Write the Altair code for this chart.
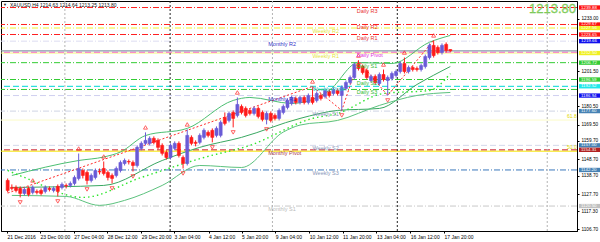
import altair as alt
import pandas as pd

# ---------------- data ----------------
title_text = "XAUUSD,H4  1214.63 1214.64 1213.25 1213.80"
last_price_text = "1213.80"

opens = [1135.9, 1131.7, 1131.7, 1131.1, 1128.1, 1131.1, 1128.7, 1129.3, 1129.9, 1129.3,
         1131.1, 1129.9, 1132.3, 1131.7, 1132.9, 1132.9, 1134.1, 1137.1, 1141.9, 1140.7,
         1135.9, 1137.7, 1141.3, 1143.1, 1140.7, 1138.9, 1138.9, 1141.9, 1146.1, 1147.3,
         1146.7, 1144.9, 1155.2, 1158.2, 1158.2, 1161.2, 1160.0, 1157.0, 1152.8, 1149.7,
         1155.2, 1158.2, 1149.7, 1146.1, 1161.8, 1158.8, 1158.8, 1161.8, 1164.8, 1166.0,
         1163.0, 1163.0, 1173.8, 1172.0, 1176.8, 1175.0, 1180.4, 1179.2, 1178.0, 1176.2,
         1179.2, 1176.8, 1172.6, 1176.2, 1175.0, 1173.2, 1176.8, 1179.8, 1182.2, 1185.2,
         1182.8, 1185.8, 1182.8, 1185.8, 1184.0, 1187.0, 1186.4, 1189.4, 1188.2, 1190.0,
         1187.0, 1191.2, 1194.8, 1197.8, 1206.2, 1204.4, 1202.0, 1196.0, 1198.4, 1194.2,
         1199.6, 1196.0, 1197.2, 1199.0, 1201.4, 1206.2, 1201.4, 1203.8, 1203.2, 1202.6,
         1204.4, 1209.8, 1217.1, 1215.9, 1212.8, 1217.7, 1214.63]
closes = [1129.9, 1131.1, 1129.9, 1128.1, 1130.5, 1127.5, 1131.7, 1128.7, 1128.1, 1131.7,
          1130.5, 1131.1, 1129.3, 1133.5, 1132.6, 1134.1, 1137.7, 1143.1, 1138.9, 1135.9,
          1138.9, 1141.9, 1141.0, 1140.1, 1137.7, 1137.1, 1143.1, 1146.7, 1147.9, 1147.0,
          1144.9, 1155.8, 1158.2, 1160.0, 1161.2, 1158.8, 1155.8, 1152.2, 1149.7, 1157.0,
          1158.2, 1150.9, 1146.1, 1163.0, 1158.2, 1158.2, 1163.0, 1166.0, 1163.0, 1161.8,
          1167.2, 1170.8, 1170.2, 1176.2, 1173.2, 1181.6, 1176.8, 1175.0, 1176.2, 1179.2,
          1174.4, 1172.6, 1176.2, 1172.0, 1173.2, 1178.0, 1180.4, 1184.0, 1185.8, 1182.8,
          1185.8, 1182.8, 1187.0, 1182.8, 1188.2, 1185.2, 1190.0, 1187.0, 1190.6, 1188.2,
          1191.8, 1194.8, 1197.8, 1205.6, 1203.2, 1200.8, 1197.8, 1198.4, 1194.8, 1199.6,
          1196.6, 1197.8, 1200.2, 1201.4, 1206.2, 1201.4, 1203.8, 1202.6, 1202.6, 1205.0,
          1210.4, 1217.1, 1211.0, 1212.8, 1217.1, 1214.0, 1213.80]
highs = [1137.1, 1133.5, 1132.9, 1132.3, 1131.7, 1132.3, 1132.9, 1130.5, 1131.1, 1132.9,
         1132.3, 1132.3, 1133.5, 1134.7, 1134.1, 1135.3, 1138.9, 1152.1, 1143.1, 1141.9,
         1140.1, 1143.1, 1143.1, 1147.3, 1141.9, 1140.1, 1144.3, 1147.9, 1149.1, 1148.5,
         1147.9, 1157.0, 1159.4, 1164.8, 1162.4, 1162.4, 1161.2, 1158.2, 1154.0, 1158.2,
         1159.4, 1159.4, 1150.9, 1166.6, 1163.0, 1160.0, 1164.2, 1167.2, 1166.0, 1167.2,
         1168.4, 1172.0, 1176.8, 1177.4, 1178.0, 1185.8, 1181.6, 1180.4, 1179.2, 1180.4,
         1180.4, 1178.0, 1177.4, 1177.4, 1176.2, 1179.2, 1181.6, 1185.2, 1187.0, 1186.4,
         1187.0, 1187.0, 1188.2, 1192.4, 1189.4, 1188.2, 1191.2, 1190.6, 1191.8, 1191.2,
         1193.0, 1196.0, 1199.0, 1206.8, 1208.0, 1205.6, 1203.2, 1199.6, 1199.6, 1200.8,
         1202.6, 1199.0, 1201.4, 1202.6, 1207.4, 1209.8, 1205.0, 1205.0, 1204.4, 1206.2,
         1211.6, 1218.3, 1220.1, 1217.1, 1218.3, 1218.9, 1214.64]
lows = [1128.7, 1129.9, 1128.7, 1125.7, 1126.9, 1126.3, 1127.5, 1127.5, 1126.9, 1128.1,
        1129.3, 1128.7, 1126.3, 1130.5, 1131.1, 1131.7, 1132.9, 1135.9, 1137.1, 1133.5,
        1134.7, 1136.5, 1139.5, 1138.9, 1135.9, 1134.1, 1137.7, 1140.7, 1144.9, 1145.5,
        1141.3, 1143.7, 1154.0, 1157.0, 1157.0, 1157.6, 1154.6, 1150.9, 1148.5, 1148.5,
        1154.0, 1149.7, 1143.1, 1144.9, 1157.0, 1156.4, 1157.6, 1160.6, 1161.8, 1158.8,
        1161.8, 1161.8, 1169.0, 1170.8, 1167.8, 1173.8, 1175.6, 1173.8, 1175.0, 1175.0,
        1173.2, 1171.4, 1169.6, 1170.8, 1172.0, 1172.0, 1175.6, 1178.6, 1181.0, 1181.6,
        1181.6, 1181.6, 1181.6, 1181.6, 1182.8, 1184.0, 1185.2, 1185.8, 1187.0, 1187.0,
        1178.0, 1190.0, 1193.6, 1196.6, 1202.0, 1199.6, 1196.6, 1194.8, 1193.6, 1193.0,
        1195.4, 1187.0, 1196.0, 1197.8, 1200.2, 1200.2, 1200.2, 1201.4, 1201.4, 1201.4,
        1203.2, 1208.6, 1209.8, 1211.6, 1211.6, 1212.8, 1213.25]

fractal_up_idx = [6, 17, 23, 33, 43, 55, 73, 84, 90, 95, 102]
fractal_down_idx = [3, 12, 19, 25, 30, 42, 49, 54, 62, 80, 91]

zigzag_idx = [0, 73, 80, 84, 91, 102]
zigzag_val = [1128.3, 1192.4, 1178.0, 1208.0, 1187.0, 1220.1]

upper_idx = [1, 17, 23, 27, 33, 43, 54, 58, 68, 77, 84, 92, 101, 106]
upper_val = [1138.9, 1147.9, 1150.0, 1153.0, 1162.9, 1167.2, 1184.0, 1185.8, 1182.2, 1190.0, 1206.8, 1206.2, 1219.0, 1223.1]
middle_idx = [1, 23, 37, 46, 56, 70, 79, 89, 98, 106]
middle_val = [1131.7, 1132.9, 1147.9, 1155.8, 1161.8, 1173.2, 1178.0, 1179.2, 1193.6, 1204.4]
lower_idx = [1, 14, 22, 28, 37, 46, 56, 66, 70, 79, 89, 98, 106]
lower_val = [1126.9, 1126.3, 1120.9, 1123.9, 1132.9, 1144.9, 1143.7, 1165.0, 1169.2, 1172.0, 1181.0, 1187.0, 1188.8]
dotted_idx = [0, 4, 18, 32, 47, 58, 73, 79, 90, 101, 106]
dotted_val = [1141.9, 1137.7, 1125.7, 1137.7, 1149.7, 1157.0, 1173.2, 1176.2, 1188.2, 1190.0, 1200.2]

sep_idx = [13.7, 38.9, 63.4, 93.3, 129.2]
sep_kind = ["day", "week", "day", "week", "day"]

level_names = ["Daily R3", "Daily R2", "Weekly R2", "Daily R1", "Monthly R2", "Weekly R1",
               "Daily Pivot", "Daily S1", "Daily S2", "Weekly Pivot", "Daily S3", "Monthly R1",
               "Weekly S1", "Fibo 61.8", "Weekly S2", "Monthly Pivot", "Fibo 50.0", "Weekly S3",
               "Monthly S1", "Bid"]
level_prices = [1239.88, 1229.67, 1227.56, 1223.65, 1219.66, 1212.50,
                1212.86, 1206.72, 1196.59, 1192.52, 1190.61, 1186.94,
                1177.60, 1172.20, 1157.00, 1154.31, 1153.50, 1142.20,
                1120.50, 1213.80]
level_colors = ["#ff2020", "#ff2020", "#f2f230", "#ff2020", "#dcdcf2", "#f4f480",
                "#ff3cff", "#33cc33", "#33cc33", "#30dede", "#33cc33", "#cfcff0",
                "#cfd4e4", "#fbfbc8", "#d4d9ea", "#d23a48", "#f5e400", "#3a78bb",
                "#c8c8c8", "#8c99a6"]
level_styles = ["dashdot", "dashdot", "dashdot", "dashdot", "dashdot", "solid",
                "dash", "dashdot", "dashdot", "dash", "dashdot", "dash",
                "dashdot", "solid", "dash", "dash", "solid", "dashdot",
                "dashdot", "solid"]
level_widths = [1, 1, 1, 1, 1, 1, 1.3, 1, 1, 1.3, 1, 1, 1, 1, 1, 1.3, 1, 1, 1, 1.2]

tag_names = ["Daily R3", "Daily R2", "Weekly R2", "Daily R1", "Monthly R2", "Weekly R1",
             "Daily Pivot", "Daily S1", "Weekly Pivot", "Daily S2", "Daily S3", "Monthly R1",
             "Weekly S1", "Weekly S2", "Monthly Pivot", "Weekly S3", "Monthly S1"]
tag_prices = [1239.88, 1229.67, 1227.56, 1223.65, 1219.66, 1212.50,
              1212.86, 1206.72, 1192.52, 1196.59, 1190.61, 1186.94,
              1177.60, 1157.00, 1154.31, 1142.20, 1120.50]
tag_idx = [83.6, 83.6, 73, 83.6, 62.4, 73, 83.6, 83.6, 73, 83.6, 83.6, 62.4, 73, 73, 62.4, 73, 62.4]
tag_colors = ["#e83030", "#e83030", "#e6e640", "#e83030", "#3535c8", "#e6e640",
              "#e030e0", "#33bb33", "#22c8c8", "#33bb33", "#33bb33", "#3535c8",
              "#8896b8", "#8896b8", "#a83a48", "#8896b8", "#bbbbbb"]

price_box_vals = [1239.88, 1229.67, 1227.56, 1223.65, 1219.66, 1212.50, 1206.72,
                  1196.59, 1192.52, 1186.94, 1177.60, 1157.00, 1154.31, 1142.20, 1120.50]
price_box_colors = ["#ff1010", "#ff1010", "#f0f020", "#ff1010", "#1010ee", "#f0f020", "#33cc33",
                    "#33cc33", "#20e8e8", "#1010ee", "#4682b4", "#4682b4", "#b22222", "#4682b4", "#c0c0c0"]

fib_texts = ["61.8", "50.0"]
fib_prices = [1172.20, 1153.50]

# axis ticks that stay visible (the others are hidden by the coloured price boxes)
y_ticks = [1106.70, 1117.30, 1127.70, 1138.70, 1148.70, 1159.70, 1169.50,
           1180.50, 1201.50, 1233.00]
x_tick_pos = [-0.16, 7.74, 15.84, 23.84, 32.0, 39.8, 48.1, 56.0, 64.1, 72.2, 80.2, 88.3, 96.4, 104.5]
x_tick_labels = ["21 Dec 2016", "23 Dec 00:00", "27 Dec 04:00", "28 Dec 12:00", "29 Dec 20:00",
                 "3 Jan 04:00", "4 Jan 12:00", "5 Jan 20:00", "9 Jan 04:00", "10 Jan 12:00",
                 "11 Jan 20:00", "13 Jan 04:00", "16 Jan 12:00", "17 Jan 20:00"]

# ---------------- tables ----------------
n = len(opens)
candles = pd.DataFrame({"i": list(range(n)), "open": opens, "close": closes,
                        "high": highs, "low": lows})
candles["dir"] = ["up" if c >= o else "down" for o, c in zip(opens, closes)]

FONT = "Liberation Sans"
xs = alt.Scale(domain=[-0.4, 135.13], nice=False, zero=False)
ys = alt.Scale(domain=[1105.5, 1243.8], nice=False, zero=False)
dir_scale = alt.Scale(domain=["up", "down"], range=["#6a5bd6", "#ff1a1a"])

label_expr = "[" + ",".join("'%s'" % t for t in x_tick_labels) + "][round(datum.value/8.05)]"

X_AX = alt.Axis(values=x_tick_pos, labelExpr=label_expr, labelAlign="left", labelFontSize=5,
                labelFont=FONT, tickSize=2, labelPadding=1, grid=False, title=None,
                labelOverlap=False, labelFlush=False, domainColor="black", tickColor="black",
                labelColor="black")
Y_AX = alt.Axis(orient="right", values=y_ticks, format=".2f", labelFontSize=4.7, labelFont=FONT,
                tickSize=2, labelPadding=2, grid=False, title=None, labelOverlap=False,
                domainColor="black", tickColor="black", labelColor="black")


def X(field):
    return alt.X(field, scale=xs, axis=X_AX)


def Y(field):
    return alt.Y(field, scale=ys, axis=Y_AX)


layers = []

# level lines
levels = pd.DataFrame({"name": level_names, "price": level_prices, "color": level_colors,
                       "style": level_styles, "w": level_widths})
dash_map = {"dashdot": [6, 2, 1, 2], "dash": [6, 3], "solid": [1, 0]}
for style, dash in dash_map.items():
    sub = levels[levels["style"] == style]
    layers.append(alt.Chart(sub).mark_rule(strokeDash=dash).encode(
        y=Y("price:Q"),
        color=alt.Color("color:N", scale=None),
        strokeWidth=alt.StrokeWidth("w:Q", scale=None)))

# separators
seps = pd.DataFrame({"i": sep_idx, "kind": sep_kind})
layers.append(alt.Chart(seps[seps["kind"] == "day"]).mark_rule(
    color="#b4b4b4", strokeDash=[2, 2]).encode(x=X("i:Q")))
layers.append(alt.Chart(seps[seps["kind"] == "week"]).mark_rule(
    color="#222222", strokeDash=[2, 2]).encode(x=X("i:Q")))


# bands
def band(idx, vals, color, dash=None, width=1.0):
    df = pd.DataFrame({"i": idx, "v": vals})
    kw = dict(color=color, strokeWidth=width, interpolate="monotone")
    if dash:
        kw["strokeDash"] = dash
    return alt.Chart(df).mark_line(**kw).encode(x=X("i:Q"), y=Y("v:Q"))


layers.append(band(upper_idx, upper_val, "#4cbf72"))
layers.append(band(middle_idx, middle_val, "#3aa862"))
layers.append(band(lower_idx, lower_val, "#5cc27e"))
layers.append(band(dotted_idx, dotted_val, "#2ee62e", dash=[1.5, 3], width=1.4))

# zigzag
zz = pd.DataFrame({"i": zigzag_idx, "v": zigzag_val})
layers.append(alt.Chart(zz).mark_line(color="#ff2a2a", strokeDash=[2, 2], strokeWidth=1).encode(
    x=X("i:Q"), y=Y("v:Q")))

# candles
layers.append(alt.Chart(candles).mark_rule(strokeWidth=1).encode(
    x=X("i:Q"), y=Y("low:Q"), y2="high:Q",
    color=alt.Color("dir:N", scale=dir_scale, legend=None)))
layers.append(alt.Chart(candles).mark_bar(size=3, strokeWidth=0.6).encode(
    x=X("i:Q"), y=Y("open:Q"), y2="close:Q",
    color=alt.Color("dir:N", scale=dir_scale, legend=None),
    stroke=alt.Stroke("dir:N", scale=dir_scale, legend=None)))

# fractal arrows
fu = candles[candles["i"].isin(fractal_up_idx)]
fd = candles[candles["i"].isin(fractal_down_idx)]
layers.append(alt.Chart(fu).mark_point(shape="triangle-up", filled=False, color="#ff2020",
                                       size=16, strokeWidth=1, yOffset=-5).encode(
    x=X("i:Q"), y=Y("high:Q")))
layers.append(alt.Chart(fd).mark_point(shape="triangle-down", filled=False, color="#ff2020",
                                       size=16, strokeWidth=1, yOffset=5).encode(
    x=X("i:Q"), y=Y("low:Q")))

# level name tags
tags = pd.DataFrame({"t": tag_names, "price": tag_prices, "i": tag_idx, "color": tag_colors})
layers.append(alt.Chart(tags).mark_text(align="left", baseline="top", dy=1, fontSize=5.5,
                                        font=FONT).encode(
    x=X("i:Q"), y=Y("price:Q"),
    text="t:N", color=alt.Color("color:N", scale=None)))

# fib texts
fib = pd.DataFrame({"t": fib_texts, "price": fib_prices})
layers.append(alt.Chart(fib).mark_text(align="left", baseline="bottom", fontSize=5, font=FONT,
                                       color="#e2d800", dy=-1).encode(
    x=alt.value(566), y=Y("price:Q"), text="t:N"))

# right-side price boxes
boxes = pd.DataFrame({"price": price_box_vals, "color": price_box_colors})
boxes_chart = alt.Chart(boxes).transform_calculate(
    lo="datum.price - 1.3", hi="datum.price + 1.3")
layers.append(boxes_chart.mark_rect().encode(
    x=alt.value(578), x2=alt.value(599),
    y=Y("lo:Q"), y2="hi:Q",
    color=alt.Color("color:N", scale=None)))
layers.append(alt.Chart(boxes).mark_text(align="left", baseline="middle", fontSize=4.4,
                                         font=FONT, color="white").encode(
    x=alt.value(580), y=Y("price:Q"),
    text=alt.Text("price:Q", format=".2f")))

# title and big last price
hdr = pd.DataFrame({"t": [title_text], "p": [last_price_text], "m": ["\u25BC"]})
layers.append(alt.Chart(hdr).mark_text(align="left", baseline="middle", fontSize=5, font=FONT,
                                       color="#111111").encode(
    x=alt.value(9), y=alt.value(4), text="t:N"))
layers.append(alt.Chart(hdr).mark_text(align="left", baseline="middle", fontSize=4, font=FONT,
                                       color="#111111").encode(
    x=alt.value(2), y=alt.value(4), text="m:N"))
layers.append(alt.Chart(hdr).mark_text(align="right", baseline="middle", fontSize=13, font=FONT,
                                       color="#8fd86a", stroke="#6fbf4a", strokeWidth=0.3).encode(
    x=alt.value(575), y=alt.value(8), text="p:N"))

chart = alt.layer(*layers).properties(
    width=576, height=230,
    padding={"left": 1, "top": 1, "right": 23, "bottom": 11},
    autosize=alt.AutoSizeParams(type="none"),
    background="white",
).configure_view(stroke="black", strokeWidth=1)

chart.save("out.html", embed_options={"renderer": "svg", "actions": False})
